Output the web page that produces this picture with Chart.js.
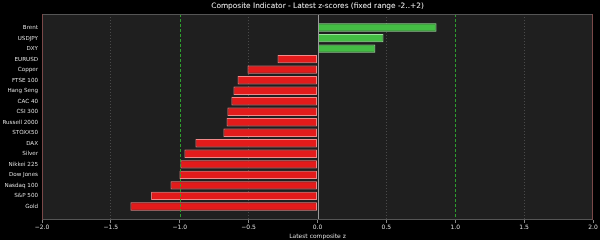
<!DOCTYPE html>
<html>

<head>
    <title>Composite Indicator</title>
    <script src="https://cdn.jsdelivr.net/npm/chart.js"></script>
    <style>
        html, body { margin: 0; padding: 0; background: #000; }
        #wrap { width: 600px; height: 240px; }
    </style>
</head>

<body>
    <div id="wrap"><canvas id="zChart"></canvas></div>
    <script>
        // latest composite z-scores
        var names = ['Brent', 'USDJPY', 'DXY', 'EURUSD', 'Copper', 'FTSE 100', 'Hang Seng', 'CAC 40', 'CSI 300',
            'Russell 2000', 'STOXX50', 'DAX', 'Silver', 'Nikkei 225', 'Dow Jones', 'Nasdaq 100', 'S&P 500', 'Gold'];
        var zScores = [0.864, 0.479, 0.42, -0.29, -0.508, -0.58, -0.61, -0.625, -0.654,
            -0.66, -0.683, -0.886, -0.966, -0.995, -1.002, -1.067, -1.208, -1.358];
        var refLines = [-1, 1];
        var xMin = -2, xMax = 2;
        var titleText = 'Composite Indicator - Latest z-scores (fixed range -2..+2)';

        var font = 'DejaVu Sans';
        // matplotlib-like 5% margin around bars of height 0.8
        var yPad = 0.4 + 0.05 * (names.length - 1 + 0.8);

        // dark plot face, title over the plot centre, reference lines
        var overlay = {
            id: 'overlay',
            beforeDraw: function (c) {
                var a = c.chartArea, ctx = c.ctx;
                ctx.save();
                ctx.fillStyle = '#000';
                ctx.fillRect(0, 0, c.width, c.height);
                ctx.fillStyle = '#1f1f1f';
                ctx.fillRect(a.left, a.top, a.right - a.left, a.bottom - a.top);
                ctx.fillStyle = '#f2f2f2';
                ctx.font = '7.4px "' + font + '"';
                ctx.textAlign = 'center';
                ctx.textBaseline = 'middle';
                ctx.fillText(titleText, (a.left + a.right) / 2, 6.5);
                ctx.restore();
            },
            afterDatasetsDraw: function (c) {
                var a = c.chartArea, ctx = c.ctx, x = c.scales.x;
                ctx.save();
                ctx.lineWidth = 1;
                ctx.strokeStyle = '#9a9a9a';
                var x0 = Math.round(x.getPixelForValue(0)) + 0.5;
                ctx.beginPath(); ctx.moveTo(x0, a.top); ctx.lineTo(x0, a.bottom); ctx.stroke();
                ctx.strokeStyle = '#2e9e2e';
                ctx.setLineDash([3, 2]);
                refLines.forEach(function (v) {
                    var px = Math.round(x.getPixelForValue(v)) + 0.5;
                    ctx.beginPath(); ctx.moveTo(px, a.top); ctx.lineTo(px, a.bottom); ctx.stroke();
                });
                ctx.setLineDash([]);
                // spines
                ctx.strokeStyle = '#555';
                ctx.beginPath();
                ctx.moveTo(a.left, a.top + 0.5); ctx.lineTo(a.right, a.top + 0.5);
                ctx.moveTo(a.left, a.bottom - 0.5); ctx.lineTo(a.right, a.bottom - 0.5);
                ctx.stroke();
                ctx.strokeStyle = '#7a4848';
                ctx.beginPath();
                ctx.moveTo(a.left + 0.5, a.top); ctx.lineTo(a.left + 0.5, a.bottom);
                ctx.moveTo(a.right - 0.5, a.top); ctx.lineTo(a.right - 0.5, a.bottom);
                ctx.stroke();
                ctx.restore();
            }
        };

        var ctx = document.getElementById('zChart').getContext('2d');
        var chart = new Chart(ctx, {
            type: 'bar',
            data: {
                labels: names,
                datasets: [{
                    data: names.map((n, i) => ({ x: zScores[i], y: i })),
                    backgroundColor: zScores.map(v => v >= 0 ? '#44bd44' : '#e31b1b'),
                    borderColor: zScores.map(v => v >= 0 ? '#9ee29e' : '#f08a8a'),
                    borderWidth: 1,
                    borderSkipped: false,
                    barPercentage: 0.8,
                    categoryPercentage: 1.0
                }]
            },
            plugins: [overlay],
            options: {
                indexAxis: 'y',
                responsive: true,
                maintainAspectRatio: false,
                animation: false,
                layout: { padding: { left: 0, right: 7, top: 14, bottom: 0 } },
                plugins: {
                    legend: { display: false },
                    tooltip: { enabled: false },
                    title: { display: false }
                },
                scales: {
                    x: {
                        min: xMin,
                        max: xMax,
                        afterFit: function (s) { s.height = 20; },
                        ticks: {
                            stepSize: 0.5,
                            color: '#dcdcdc',
                            padding: 1,
                            maxRotation: 0,
                            font: { family: font, size: 6 },
                            callback: function (v) { return (v < 0 ? '\u2212' : '') + Math.abs(v).toFixed(1); }
                        },
                        grid: {
                            color: function (c) {
                                var v = c.tick ? c.tick.value : 0;
                                return (v === 0 || v === 1 || v === -1 || v === xMin || v === xMax) ? 'rgba(0,0,0,0)' : '#4a4a4a';
                            },
                            tickColor: '#888',
                            tickLength: 3,
                            drawOnChartArea: true
                        },
                        border: { display: false, dash: [1, 2] },
                        title: {
                            display: true,
                            text: 'Latest composite z',
                            color: '#dcdcdc',
                            font: { family: font, size: 6 },
                            padding: { top: 1, bottom: 0 }
                        }
                    },
                    y: {
                        type: 'linear',
                        reverse: true,
                        offset: false,
                        bounds: 'data',
                        min: -yPad,
                        max: names.length - 1 + yPad,
                        afterFit: function (s) { s.width = 42; },
                        afterBuildTicks: function (s) {
                            s.ticks = names.map((n, i) => ({ value: i }));
                        },
                        ticks: {
                            color: '#dcdcdc',
                            padding: 4,
                            autoSkip: false,
                            font: { family: font, size: 5.6 },
                            callback: function (v) { return names[v]; }
                        },
                        grid: { display: false, offset: false, tickLength: 0 },
                        border: { display: false }
                    }
                }
            }
        });
    </script>
</body>

</html>
